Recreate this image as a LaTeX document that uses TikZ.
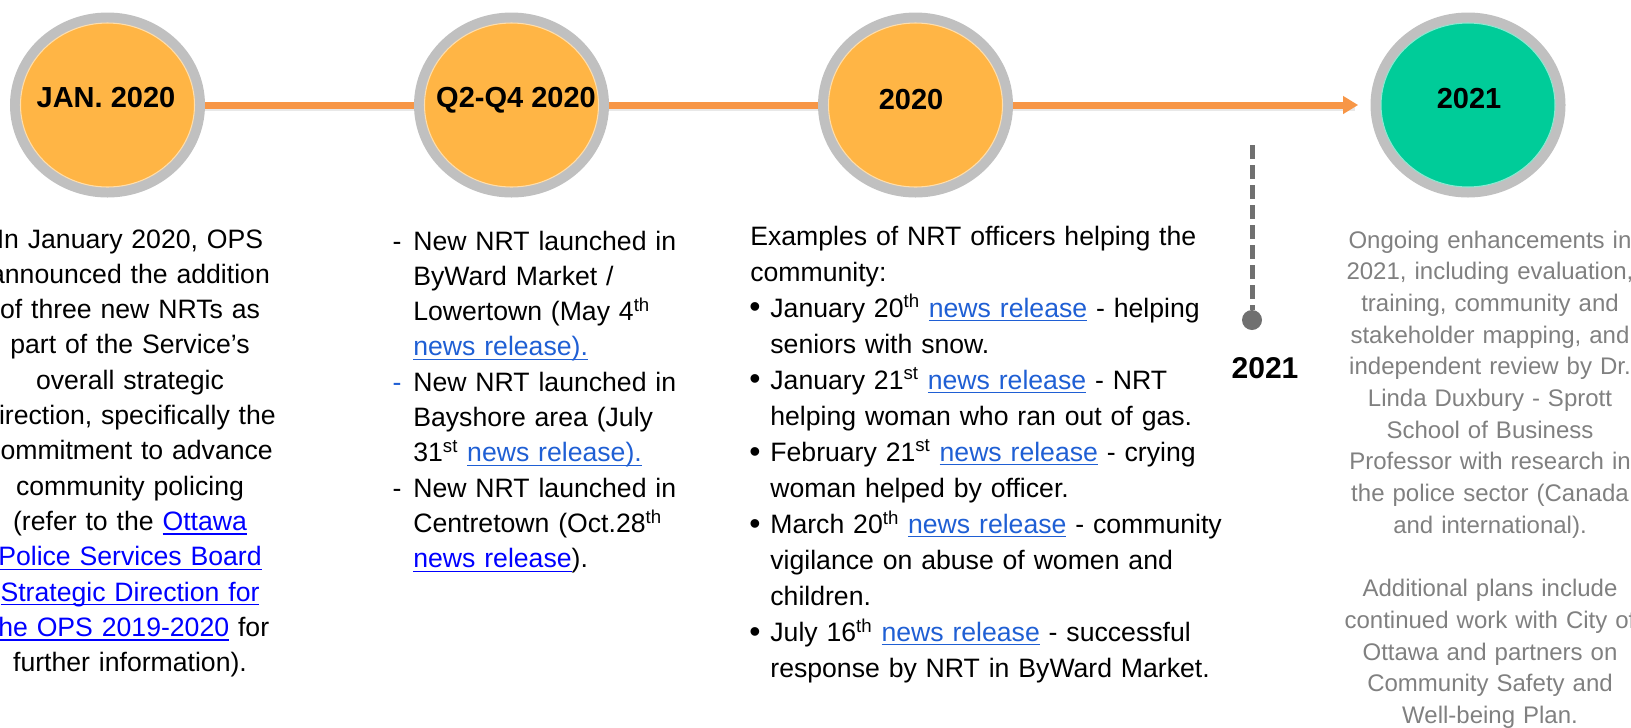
\documentclass[tikz,border=0pt]{standalone}
\usepackage{fontspec}
\setmainfont{Liberation Sans}
\usetikzlibrary{arrows.meta,shapes.geometric}

\definecolor{lineorange}{HTML}{F79646}
\definecolor{dotorange}{HTML}{FFB545}
\definecolor{dotgreen}{HTML}{00CC99}
\definecolor{ringgray}{HTML}{C0C0C0}
\definecolor{tickgray}{HTML}{707070}
\definecolor{notegray}{HTML}{808080}
\definecolor{linkblue}{HTML}{1F5FD4}
\definecolor{purelink}{HTML}{0000FF}

\newcommand{\undl}[1]{\leavevmode\setbox0\hbox{#1}\rlap{\rule[-2.4pt]{\wd0}{0.9pt}}\box0}
\newcommand{\weblink}[2][linkblue]{{\color{#1}\undl{#2}}}
\newcommand{\bul}{\makebox[11.4pt][l]{\hspace{-0.6pt}\raisebox{-0.5pt}{\scalebox{1.2}{\textbullet}}}}
\newcommand{\bulind}{\hspace*{11.4pt}}
\newcommand{\dashmark}[1][black]{\leavevmode\llap{\textcolor{#1}{-}\hspace{6.8pt}}}

\begin{document}
\begin{tikzpicture}[
    yearring/.style={ellipse, fill=ringgray, minimum width=3.9cm, minimum height=3.7cm, inner sep=0pt},
    yeardisc/.style={ellipse, fill=#1, draw=white!55!#1, line width=0.6pt, minimum width=3.48cm, minimum height=3.28cm, inner sep=0pt},
    yearlabel/.style={font=\fontsize{16.5}{16.5}\selectfont\bfseries, inner sep=0pt},
    timeline/.style={draw=lineorange, line width=0.14cm},
    timeshadow/.style={draw=black!9, line width=0.14cm, transform canvas={yshift=-0.05cm}},
    noteblock/.style={anchor=base, inner sep=0pt, align=center, font=\fontsize{15.15}{20.1}\selectfont},
  ]
      \clip (0,0) rectangle (32.62,-14.54);
      %%%%%%%%%%%%%%%%%%%%%%%%%%%%%%%%%%%%%%%%%%%%%%%
      \node[yearring] (ring1) at (2.15,-2.10) {};
      \node[yeardisc=dotorange] (disc1) at (ring1) {};
      \node[yearlabel] (date1) at (2.12,-1.95) {JAN. 2020};
      \node[yearring] (ring2) at (10.23,-2.10) {};
      \node[yeardisc=dotorange] (disc2) at (ring2) {};
      \node[yearlabel] (date2) at (10.32,-2.00) {Q2-Q4 2020};
      \node[yearring] (ring3) at (18.31,-2.10) {};
      \node[yeardisc=dotorange] (disc3) at (ring3) {};
      \node[yearlabel] (date3) at (18.22,-2.00) {2020};
      \node[yearring] (ring4) at (29.36,-2.10) {};
      \node[yeardisc=dotgreen] (disc4) at (ring4) {};
      \node[yearlabel] (date4) at (29.38,-1.98) {2021};
      %%%%%%%%%%%%%%%%%%%%%%%%%%%%%%%%%%%%%%%%%%%%%%%
      \draw[timeshadow] (ring1) -- (ring2);
      \draw[timeshadow] (ring2) -- (ring3);
      \draw[timeshadow, shorten >=0.3cm] (ring3) -- (ring4);
      \draw[timeline] (ring1) -- (ring2);
      \draw[timeline] (ring2) -- (ring3);
      \draw[timeline, -{Triangle[length=0.3cm, width=0.34cm]}, shorten >=0.24cm] (ring3) -- (ring4);
      %%%%%%%%%%%%%%%%%%%%%%%%%%%%%%%%%%%%%%%%%%%%%%%
      \coordinate (tickTop) at (25.04,-2.90);
      \node[circle, fill=tickgray, minimum size=0.4cm, inner sep=0pt] (tickDot) at (25.04,-6.40) {};
      \draw[tickgray, line width=0.1cm, dash pattern=on 0.28cm off 0.12cm] (tickTop) -- (tickDot);
      \node[font=\fontsize{17.1}{17.1}\selectfont\bfseries, inner sep=0pt] (tickYear) at (25.30,-7.36) {2021};
      %%%%%%%%%%%%%%%%%%%%%%%%%%%%%%%%%%%%%%%%%%%%%%%
      \node[noteblock, text width=7cm] (janText) at (2.60,-4.96) {In January 2020, OPS\\
        announced the addition\\
        of three new NRTs as\\
        part of the Service’s\\
        overall strategic\\
        direction, specifically the\\
        commitment to advance\\
        community policing\\
        (refer to the \weblink[purelink]{Ottawa}\\
        \weblink[purelink]{Police Services Board}\\
        \weblink[purelink]{Strategic Direction for}\\
        \weblink[purelink]{the OPS 2019-2020} for\\
        further information).};
      %%%%%%%%%%%%%%%%%%%%%%%%%%%%%%%%%%%%%%%%%%%%%%%
      \node[noteblock, anchor=base west, align=left, text width=6cm, font=\fontsize{15.15}{20.1}\selectfont] (quarterText) at (8.26,-5.00) {\dashmark New NRT launched in\\
        ByWard Market /\\
        Lowertown (May 4\textsuperscript{th}\\
        \weblink{news release).}\\
        \dashmark[linkblue]New NRT launched in\\
        Bayshore area (July\\
        31\textsuperscript{st} \weblink{news release).}\\
        \dashmark New NRT launched in\\
        Centretown (Oct.28\textsuperscript{th}\\
        \weblink[purelink]{news release}).};
      %%%%%%%%%%%%%%%%%%%%%%%%%%%%%%%%%%%%%%%%%%%%%%%
      \node[noteblock, anchor=base west, align=left, text width=10cm, font=\fontsize{15.15}{20.5}\selectfont] (yearText) at (15.00,-4.90) {Examples of NRT officers helping the\\
        community:\\
        \bul January 20\textsuperscript{th} \weblink{news release} - helping\\
        \bulind seniors with snow.\\
        \bul January 21\textsuperscript{st} \weblink{news release} - NRT\\
        \bulind helping woman who ran out of gas.\\
        \bul February 21\textsuperscript{st} \weblink{news release} - crying\\
        \bulind woman helped by officer.\\
        \bul March 20\textsuperscript{th} \weblink{news release} - community\\
        \bulind vigilance on abuse of women and\\
        \bulind children.\\
        \bul July 16\textsuperscript{th} \weblink{news release} - successful\\
        \bulind response by NRT in ByWard Market.};
      %%%%%%%%%%%%%%%%%%%%%%%%%%%%%%%%%%%%%%%%%%%%%%%
      \node[noteblock, text width=7cm, text=notegray, font=\fontsize{13.66}{18.04}\selectfont] (planText) at (29.80,-4.96) {Ongoing enhancements in\\
        2021, including evaluation,\\
        training, community and\\
        stakeholder mapping, and\\
        independent review by Dr.\\
        Linda Duxbury - Sprott\\
        School of Business\\
        Professor with research in\\
        the police sector (Canada\\
        and international).\\[\baselineskip]
        Additional plans include\\
        continued work with City of\\
        Ottawa and partners on\\
        Community Safety and\\
        Well-being Plan.};
\end{tikzpicture}
\end{document}
